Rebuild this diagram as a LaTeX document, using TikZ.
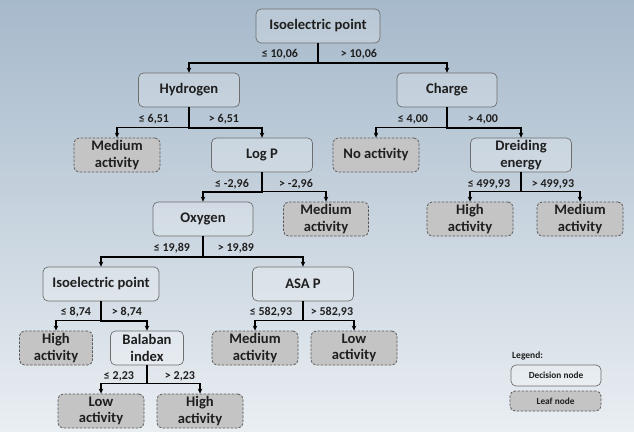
\documentclass[tikz,border=0pt]{standalone}
\usepackage{fontspec}
\setmainfont{Carlito}
\usetikzlibrary{arrows.meta,calc}
\definecolor{bgtop}{RGB}{166,185,203}
\definecolor{bgbot}{RGB}{233,238,242}
\definecolor{leaffill}{RGB}{196,196,196}
\definecolor{decborder}{RGB}{110,110,110}
\tikzset{
  dec/.style={draw=decborder, line width=0.7pt, rounded corners=5pt, fill=white, fill opacity=0.22, text opacity=1,
    font=\fontsize{14.6}{16.5}\selectfont\bfseries, align=center, inner sep=0pt, text=black!88},
  leaf/.style={draw=black!65, dashed, dash pattern=on 2.5pt off 1.5pt, line width=0.8pt, rounded corners=5pt, fill=leaffill,
    font=\fontsize{14.6}{16.5}\selectfont\bfseries, align=center, inner sep=0pt, text=black!88},
  conn/.style={line width=1.7pt, -{Stealth[length=5pt,width=4.5pt]}, black},
  lbl/.style={font=\fontsize{12}{12}\selectfont\bfseries, text=black!88, inner sep=0pt},
}
\newcommand{\dnode}[6]{\node[dec, minimum width=#4pt, minimum height=#5pt] (#1) at (#2pt,-#3pt) {#6};}
\newcommand{\lnode}[6]{\node[leaf, minimum width=#4pt, minimum height=#5pt] (#1) at (#2pt,-#3pt) {#6};}
\newcommand{\edge}[2]{\draw[conn] (#1.south) |- ([yshift=10pt]#2.north) -- (#2.north);}
\begin{document}
\begin{tikzpicture}[x=1pt,y=1pt]
\shade[top color=bgtop, bottom color=bgbot] (0,0) rectangle (634,-431);
\useasboundingbox (0,0) rectangle (634,-431);
% decision nodes
\dnode{root}{318}{26}{124}{34}{Isoelectric point}
\dnode{hyd}{189}{90}{101}{34}{Hydrogen}
\dnode{chg}{447}{90}{100}{34}{Charge}
\dnode{logp}{262}{155}{101}{34}{Log P}
\dnode{dre}{521}{155}{101}{34}{Dreiding\\energy}
\dnode{oxy}{203}{219}{100}{34}{Oxygen}
\dnode{iso}{101}{284}{116}{34}{Isoelectric point}
\dnode{asa}{303}{284}{101}{34}{ASA P}
\dnode{bal}{147}{348}{73}{34}{Balaban\\index}
% leaves
\lnode{l1}{117}{155}{86}{34}{Medium\\activity}
\lnode{l2}{376}{155}{86}{34}{No activity}
\lnode{l3}{326}{219}{85}{34}{Medium\\activity}
\lnode{l4}{470}{219}{86}{34}{High\\activity}
\lnode{l5}{580}{219}{86}{34}{Medium\\activity}
\lnode{l6}{56}{348}{73}{34}{High\\activity}
\lnode{l7}{255}{348}{86}{34}{Medium\\activity}
\lnode{l8}{354}{348}{86}{34}{Low\\activity}
\lnode{l9}{101}{411}{86}{34}{Low\\activity}
\lnode{l10}{200}{411}{86}{34}{High\\activity}
% edges
\edge{root}{hyd}\edge{root}{chg}
\edge{hyd}{l1}\edge{hyd}{logp}
\edge{chg}{l2}\edge{chg}{dre}
\edge{logp}{oxy}\edge{logp}{l3}
\edge{dre}{l4}\edge{dre}{l5}
\edge{oxy}{iso}\edge{oxy}{asa}
\edge{iso}{l6}\edge{iso}{bal}
\edge{asa}{l7}\edge{asa}{l8}
\edge{bal}{l9}\edge{bal}{l10}
% labels
\node[lbl] (a1) at (280,-54) {≤ 10,06};
\node[lbl] (a2) at (359,-54) {> 10,06};
\node[lbl] (b1) at (154,-119) {≤ 6,51};
\node[lbl] (b2) at (224,-119) {> 6,51};
\node[lbl] (c1) at (413,-119) {≤ 4,00};
\node[lbl] (c2) at (483,-119) {> 4,00};
\node[lbl] (d1) at (232,-184) {≤ -2,96};
\node[lbl] (d2) at (296,-184) {> -2,96};
\node[lbl] (e1) at (489,-184) {≤ 499,93};
\node[lbl] (e2) at (553,-184) {> 499,93};
\node[lbl] (f1) at (172,-248) {≤ 19,89};
\node[lbl] (f2) at (236,-248) {> 19,89};
\node[lbl] (g1) at (76,-312) {≤ 8,74};
\node[lbl] (g2) at (127,-312) {> 8,74};
\node[lbl] (h1) at (271,-312) {≤ 582,93};
\node[lbl] (h2) at (332,-312) {> 582,93};
\node[lbl] (i1) at (119,-376) {≤ 2,23};
\node[lbl] (i2) at (180,-376) {> 2,23};
% legend
\node[font=\fontsize{9.5}{10}\selectfont\bfseries, anchor=west, inner sep=0pt, text=black!88] (leg) at (512,-356) {Legend:};
\node[dec, minimum width=90pt, minimum height=21pt, font=\fontsize{9.3}{10}\selectfont\bfseries] (legd) at (556,-375.5) {Decision node};
\node[leaf, minimum width=91pt, minimum height=20pt, font=\fontsize{9.3}{10}\selectfont\bfseries] (legl) at (555.5,-401) {Leaf node};
\end{tikzpicture}
\end{document}
